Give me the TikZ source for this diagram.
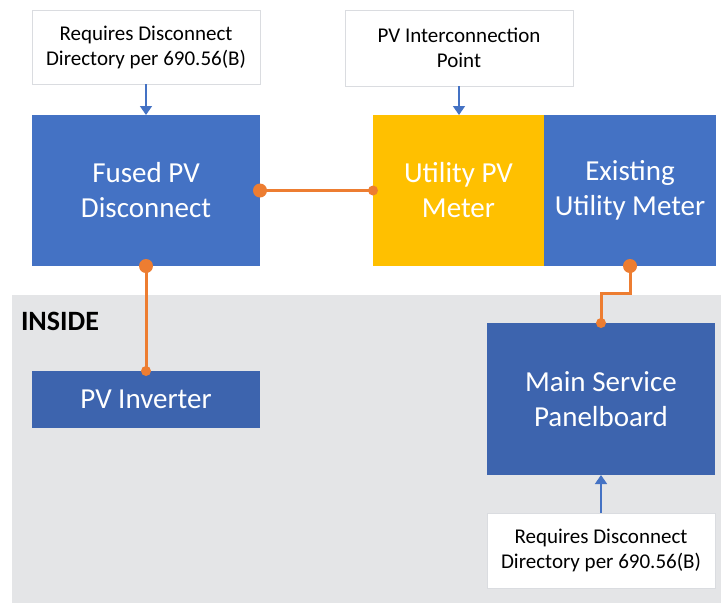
\documentclass[tikz,border=0pt]{standalone}
\usepackage{fontspec}
\setmainfont{Carlito}
\usetikzlibrary{arrows.meta}
\definecolor{boxblue}{HTML}{4472C4}
\definecolor{darkblue}{HTML}{3D64AE}
\definecolor{meteryellow}{HTML}{FFC000}
\definecolor{wireorange}{HTML}{ED7D31}
\definecolor{insidegray}{HTML}{E4E5E7}
\definecolor{notegray}{HTML}{DADCE0}

\begin{document}
\begin{tikzpicture}[x=1pt,y=-1pt,
						every node/.style={inner sep=0pt,outer sep=0pt},
						unit/.style={anchor=north west,fill=boxblue,text=white,
						align=center,font=\fontsize{29}{35}\selectfont},
						note/.style={anchor=north west,fill=white,draw=notegray,line width=1pt,
						align=center,font=\fontsize{21}{25}\selectfont},
						wire/.style={draw=wireorange,line width=3pt},
						feed/.style={draw=boxblue,line width=1.5pt,-{Triangle[length=9pt,width=12pt]}}]

		\useasboundingbox (0,0) rectangle (721,603);
		\fill[insidegray] (12,295) rectangle (721,603);
		\node[anchor=west,font=\fontsize{28}{30}\selectfont\bfseries] (inside) at (21,321) {INSIDE};

		\node[note,minimum width=228,minimum height=74] (note1) at (32,10) {Requires Disconnect\\Directory per 690.56(B)};
		\node[note,minimum width=228,minimum height=76] (note2) at (345,10) {PV Interconnection\\Point};
		\node[note,minimum width=228,minimum height=75] (note3) at (487,513) {Requires Disconnect\\Directory per 690.56(B)};

		\node[unit,minimum width=228,minimum height=151] (fused) at (32,115) {Fused PV\\Disconnect};
		\node[unit,fill=meteryellow,minimum width=171,minimum height=151] (upv) at (373,115) {Utility PV\\Meter};
		\node[unit,minimum width=172,minimum height=151] (exist) at (544,115) {Existing\\Utility Meter};
		\node[unit,fill=darkblue,minimum width=228,minimum height=57] (inv) at (32,371) {PV Inverter};
		\node[unit,fill=darkblue,minimum width=228,minimum height=152] (main) at (487,323) {Main Service\\Panelboard};

		\draw[feed] (note1.south) -- (fused.north);
		\draw[feed] (note2.south) -- (upv.north -| note2.south);
		\draw[feed] (note3.north) -- (main.south);

		\draw[wire] (fused.east) -- (upv.west);
		\draw[wire] (fused.south) -- (inv.north);
		\draw[wire] (exist.south) -- ++(0,27) -| (main.north);

		\fill[wireorange] (fused.east) circle (7pt);
		\fill[wireorange] (upv.west) circle (5pt);
		\fill[wireorange] (fused.south) circle (7pt);
		\fill[wireorange] (inv.north) circle (5pt);
		\fill[wireorange] (exist.south) circle (7pt);
		\fill[wireorange] (main.north) circle (5pt);

	\end{tikzpicture}
\end{document}
